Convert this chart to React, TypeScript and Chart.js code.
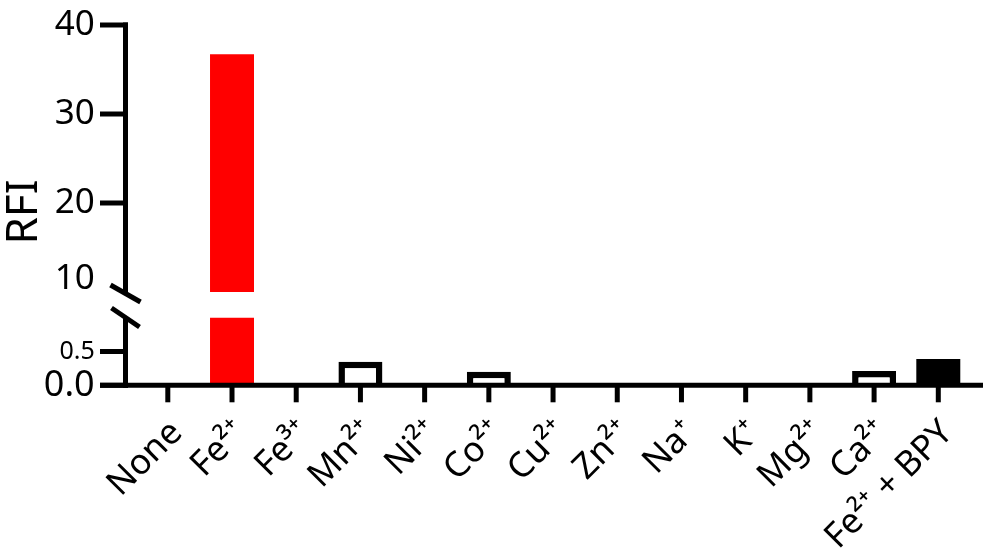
import React, { useEffect, useRef } from "react";
import { Chart, registerables } from "chart.js";

Chart.register(...registerables);

const FONT = "'Noto Sans', 'DejaVu Sans', sans-serif";

const categories = [
  "None",
  "Fe²⁺",
  "Fe³⁺",
  "Mn²⁺",
  "Ni²⁺",
  "Co²⁺",
  "Cu²⁺",
  "Zn²⁺",
  "Na⁺",
  "K⁺",
  "Mg²⁺",
  "Ca²⁺",
  "Fe²⁺ + BPY",
];
const rfiValues = [0, 36.7, 0, 0.35, 0, 0.2, 0, 0, 0, 0, 0, 0.21, 0.39];
const fillColors = [
  "#ffffff", "#ff0000", "#ffffff", "#ffffff", "#ffffff", "#ffffff", "#ffffff",
  "#ffffff", "#ffffff", "#ffffff", "#ffffff", "#ffffff", "#000000",
];
const borderWidths = [6.5, 0, 6.5, 6.5, 6.5, 6.5, 6.5, 6.5, 6.5, 6.5, 6.5, 6.5, 0];

const upperRange = [10, 40];
const upperTicks = [10, 20, 30, 40];
const lowerRange = [0, 1];
const lowerTicks = [0, 0.5];
const yTitle = "RFI";

const brokenAxisPlugin = {
  id: "brokenAxis",
  afterDraw(chart: any) {
    const ctx = chart.ctx as CanvasRenderingContext2D;
    const xs = chart.scales.x;
    const yT = chart.scales.yTop;
    const yB = chart.scales.yBot;
    const ax = chart.chartArea.left - 10.2;
    const tickLen = 25.5;
    const base = yB.getPixelForValue(0);
    ctx.save();
    ctx.strokeStyle = "#000";
    ctx.lineWidth = 5;
    ctx.lineCap = "butt";
    const line = (x1: number, y1: number, x2: number, y2: number) => {
      ctx.beginPath();
      ctx.moveTo(x1, y1);
      ctx.lineTo(x2, y2);
      ctx.stroke();
    };
    const topPx = yT.getPixelForValue(upperRange[1]);
    line(ax, topPx - 2.5, ax, yT.bottom);
    line(ax, yB.top, ax, base + 2.5);
    line(ax - tickLen, base, xs.right + 12.6, base);
    upperTicks.forEach((v) => {
      if (v === upperRange[0]) return;
      const p = yT.getPixelForValue(v);
      line(ax - tickLen, p, ax + 2.5, p);
    });
    lowerTicks.forEach((v) => {
      const p = yB.getPixelForValue(v);
      line(ax - tickLen, p, ax + 2.5, p);
    });
    categories.forEach((_, i) => {
      const p = xs.getPixelForTick(i);
      line(p, base, p, base + 17);
    });
    const c1 = yT.bottom + 1.5;
    line(ax - 15, c1 - 8.5, ax + 15, c1 + 8.5);
    const c2 = yB.top - 0.2;
    line(ax - 14, c2 - 9.5, ax + 14, c2 + 9.5);
    ctx.fillStyle = "#000";
    ctx.font = `44px ${FONT}`;
    ctx.textAlign = "center";
    ctx.textBaseline = "middle";
    ctx.translate(24, 212);
    ctx.rotate(-Math.PI / 2);
    ctx.fillText(yTitle, 0, 0);
    ctx.restore();
  },
};

const hiddenTickGrid = {
  display: true,
  drawOnChartArea: false,
  drawTicks: true,
  tickLength: 41,
  color: "rgba(0,0,0,0)",
};

export default function App() {
  const canvasRef = useRef<HTMLCanvasElement | null>(null);

  useEffect(() => {
    if (!canvasRef.current) return;
    const commonDs = {
      data: rfiValues,
      backgroundColor: fillColors,
      borderColor: "#000000",
      borderWidth: borderWidths,
      borderSkipped: "start",
      grouped: false,
      categoryPercentage: 1,
      barPercentage: 0.685,
      clip: 0,
    };
    const chart = new Chart(canvasRef.current, {
      type: "bar",
      data: {
        labels: categories,
        datasets: [
          { ...commonDs, label: "upper", yAxisID: "yTop" } as any,
          { ...commonDs, label: "lower", yAxisID: "yBot" } as any,
        ],
      },
      plugins: [brokenAxisPlugin],
      options: {
        animation: false,
        responsive: true,
        maintainAspectRatio: false,
        layout: { padding: { top: 25, left: 0, right: 29.6, bottom: 0 } },
        plugins: {
          legend: { display: false },
          tooltip: { enabled: false },
          title: { display: false },
        },
        scales: {
          x: {
            type: "category",
            offset: true,
            grid: { display: false },
            border: { display: false },
            ticks: {
              autoSkip: false,
              maxRotation: 45,
              minRotation: 45,
              padding: 19,
              labelOffset: 9,
              color: "#000",
              font: { family: FONT, size: 35 },
            },
            afterFit: (s: any) => {
              s.height = 163.7;
            },
          },
          yBot: {
            type: "linear",
            position: "left",
            stack: "rfi",
            stackWeight: 67.6,
            min: lowerRange[0],
            max: lowerRange[1],
            grid: hiddenTickGrid,
            border: { display: false },
            afterBuildTicks: (s: any) => {
              s.ticks = lowerTicks.map((v) => ({ value: v }));
            },
            afterFit: (s: any) => {
              s.width = 135.7;
            },
            ticks: {
              padding: 0,
              color: "#000",
              callback: (v: any) => Number(v).toFixed(1),
              font: (c: any) => {
                const v = c && c.tick ? c.tick.value : null;
                return { family: FONT, size: v === 0.5 ? 25 : 36 };
              },
            },
          },
          yGap: {
            type: "linear",
            position: "left",
            stack: "rfi",
            stackWeight: 25.7,
            display: false,
            min: 0,
            max: 1,
          },
          yTop: {
            type: "linear",
            position: "left",
            stack: "rfi",
            stackWeight: 267,
            min: upperRange[0],
            max: upperRange[1],
            grid: hiddenTickGrid,
            border: { display: false },
            afterBuildTicks: (s: any) => {
              s.ticks = upperTicks.map((v) => ({ value: v }));
            },
            afterFit: (s: any) => {
              s.width = 135.7;
            },
            ticks: {
              padding: 0,
              color: "#000",
              callback: (v: any) => (Number(v) === upperRange[0] ? [String(v), ""] : String(v)),
              font: (c: any) => {
                const v = c && c.tick ? c.tick.value : null;
                return v === upperRange[0]
                  ? { family: FONT, size: 35, lineHeight: "26px" }
                  : { family: FONT, size: 35 };
              },
            },
          },
        },
      } as any,
    });
    return () => chart.destroy();
  }, []);

  return (
    <div
      style={{
        position: "fixed",
        left: 0,
        top: 0,
        width: "1000px",
        height: "549px",
        background: "#fff",
      }}
    >
      <canvas ref={canvasRef} />
    </div>
  );
}
